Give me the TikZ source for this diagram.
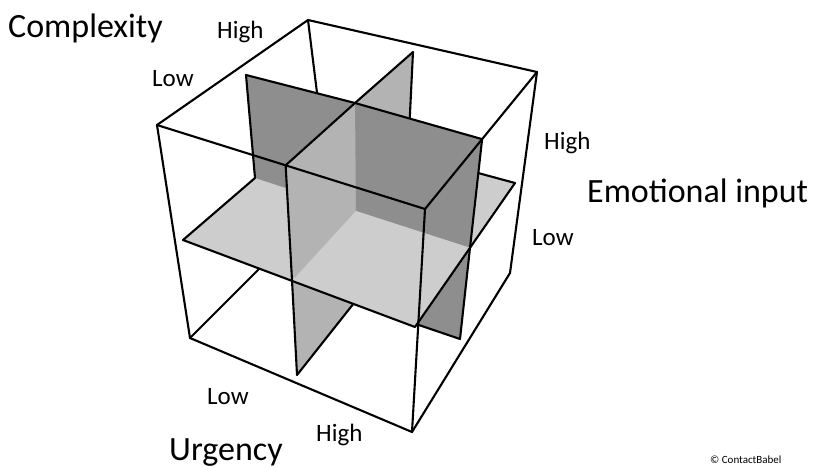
\documentclass[tikz,border=0pt]{standalone}
\usepackage{fontspec}
\setmainfont{Carlito}
\usetikzlibrary{calc}

\definecolor{paneldark}{HTML}{8E8E8E}
\definecolor{panelmid}{HTML}{B3B3B3}
\definecolor{panellight}{HTML}{CDCDCD}

\tikzset{
  edge/.style={line width=2.1pt, line join=round, line cap=round},
  axis label/.style={font=\fontsize{34}{40}\selectfont, anchor=base west, inner sep=0pt},
  level label/.style={font=\fontsize{25}{30}\selectfont, anchor=base west, inner sep=0pt},
}

\begin{document}
\begin{tikzpicture}[x=1pt, y=-1pt]
  \useasboundingbox (0,0) rectangle (814,467);

  % Cube corners
  \coordinate (tb) at (308,20);
  \coordinate (tl) at (157,125);
  \coordinate (tf) at (425,209);
  \coordinate (tr) at (537,72);
  \coordinate (bl) at (190,338);
  \coordinate (bf) at (412,432);
  \coordinate (br) at (510,273);
  \coordinate (bb) at (330,198);

  % Back edges, the panels cover them
  \draw[edge] (tb) -- (bb) -- (bl);

  % Panel corners
  \coordinate (eleft) at (183,240);
  \coordinate (efront) at (415,327);
  \coordinate (eright) at (515,183);
  \coordinate (mid) at (356,211);
  \coordinate (u00) at (297,375);
  \coordinate (u01) at ($(eleft)!0.47!(efront)$);
  \coordinate (u02) at ($(tl)!0.48!(tf)$);
  \coordinate (u10) at (354,303);
  \coordinate (u12) at (355,103);
  \coordinate (u21) at (408,154);
  \coordinate (u22) at (413,52);
  \coordinate (c01) at (255,178);
  \coordinate (c02) at (246,75);
  \coordinate (c20) at (460,339);
  \coordinate (c21) at ($(efront)!0.55!(eright)$);
  \coordinate (c22) at ($(tf)!0.51!(tr)$);

  % Quarter panels, back to front
  \foreach \col/\a/\b/\d in {
    panellight/eleft/c01/u01,
    panellight/eright/u21/c21,
    panelmid/u22/u21/u12,
    panelmid/u00/u10/u01,
    paneldark/c02/u12/c01,
    paneldark/c20/u10/c21,
    panelmid/u02/u12/u01,
    paneldark/c22/c21/u12,
    panellight/efront/c21/u01} {
    \fill[\col] (\a) -- (\b) -- (mid) -- (\d) -- cycle;
    \draw[edge] (\d) -- (\a) -- (\b);
  }

  % Front edges
  \draw[edge] (tb) -- (tl) -- (bl) -- (bf) -- (br) -- (tr) -- cycle;
  \draw[edge] (tl) -- (tf) -- (tr);
  \draw[edge] (tf) -- (bf);

  % Labels
  \node[axis label] (complexity) at (8,37) {Complexity};
  \node[axis label] (emotional) at (587,202) {Emotional input};
  \node[axis label] (urgency) at (169,460) {Urgency};
  \foreach \nm/\x/\y/\txt in {clow/152/86/Low, chigh/217/38/High,
    ehigh/544/149/High, elow/532/245/Low,
    ulow/207/404/Low, uhigh/316/441/High}
    \node[level label] (\nm) at (\x,\y) {\txt};
  \node[font=\fontsize{11}{13}\selectfont, anchor=base west, inner sep=0pt] (credit) at (710,463) {© ContactBabel};
\end{tikzpicture}
\end{document}
